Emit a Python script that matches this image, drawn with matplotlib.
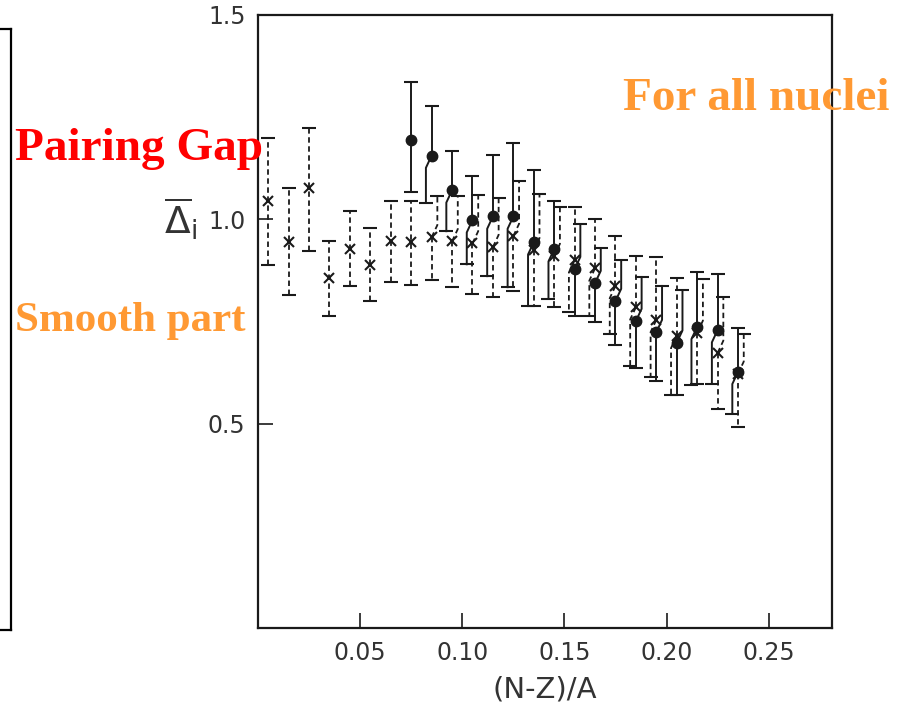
import numpy as np
import matplotlib
matplotlib.use("Agg")
import matplotlib.pyplot as plt

# bin centres of (N-Z)/A
x_bins = [0.005, 0.015, 0.025, 0.035, 0.045, 0.055, 0.065, 0.075, 0.085, 0.095, 0.105, 0.115,
          0.125, 0.135, 0.145, 0.155, 0.165, 0.175, 0.185, 0.195, 0.205, 0.215, 0.225, 0.235]

# smooth part (crosses, dashed error bars)
cross_val = [1.046, 0.944, 1.076, 0.856, 0.927, 0.888, 0.946, 0.944, 0.956, 0.946, 0.941, 0.932,
             0.959, 0.924, 0.910, 0.900, 0.880, 0.837, 0.785, 0.754, 0.715, 0.722, 0.673, 0.622]
cross_hi = [1.200, 1.076, 1.224, 0.946, 1.020, 0.978, 1.046, 1.044, 1.056, 1.056, 1.059, 1.051,
            1.095, 1.063, 1.029, 1.029, 1.002, 0.959, 0.910, 0.907, 0.856, 0.854, 0.810, 0.720]
cross_lo = [0.888, 0.815, 0.922, 0.763, 0.837, 0.800, 0.846, 0.839, 0.851, 0.834, 0.817, 0.810,
            0.824, 0.788, 0.785, 0.773, 0.763, 0.720, 0.642, 0.615, 0.571, 0.598, 0.537, 0.493]

# all nuclei (dots, solid error bars), from x = 0.075 on
dot_start = 7
dot_val = [1.195, 1.156, 1.071, 0.998, 1.007, 1.007, 0.944, 0.927, 0.878, 0.844, 0.800,
           0.751, 0.724, 0.698, 0.737, 0.729, 0.627]
dot_hi = [1.337, 1.278, 1.166, 1.105, 1.158, 1.188, 1.120, 1.046, 0.988, 0.929, 0.900,
          0.859, 0.837, 0.827, 0.871, 0.866, 0.734]
dot_lo = [1.068, 1.040, 0.971, 0.890, 0.861, 0.834, 0.788, 0.805, 0.763, 0.749, 0.693,
          0.637, 0.605, 0.571, 0.595, 0.598, 0.524]

INK = "#1a1a1a"
SOLID = dict(color=INK, lw=1.4, ls="-")
DASHED = dict(color=INK, lw=1.3, ls=(0, (3, 2)))
d, e = 0.0028, 0.03  # sideways shift of overlapping bars


def bar(ax, xs, ys, style):
    ax.plot(xs, ys, **style, zorder=2)


def cap(ax, x, y):
    ax.plot([x], [y], marker="_", ms=10, mew=1.5, color=INK, ls="none", zorder=3)


fig = plt.figure(figsize=(9.13, 7.03), dpi=100)

# edge of the neighbouring panel
ax0 = fig.add_axes([-0.3, 0.1038, 0.3 + 11 / 913, 0.855])
ax0.set_xticks([])
ax0.set_yticks([])
for s in ax0.spines.values():
    s.set_linewidth(1.6)

ax = fig.add_axes([258 / 913, 75 / 703, 574 / 913, 613 / 703])

for k, x in enumerate(x_bins):
    cv, ch, cl = cross_val[k], cross_hi[k], cross_lo[k]
    j = k - dot_start
    if j < 0:
        bar(ax, [x, x], [cl, ch], DASHED)
        cap(ax, x, ch)
        cap(ax, x, cl)
        continue
    dv, dh, dl = dot_val[j], dot_hi[j], dot_lo[j]
    if dv >= cv:
        hi = (dv, dh, dl, SOLID)
        lo = (cv, ch, cl, DASHED)
    else:
        hi = (cv, ch, cl, DASHED)
        lo = (dv, dh, dl, SOLID)
    if hi[2] >= lo[1]:
        # no overlap, straight bars
        for v, h, l, st in (hi, lo):
            bar(ax, [x, x], [l, h], st)
            cap(ax, x, h)
            cap(ax, x, l)
    else:
        v, h, l, st = hi
        bar(ax, [x, x], [v, h], st)
        bar(ax, [x, x - d, x - d], [v, v - e, l], st)
        cap(ax, x, h)
        cap(ax, x - d, l)
        v, h, l, st = lo
        bar(ax, [x, x + d, x + d], [v, v + e, h], st)
        bar(ax, [x, x], [v, l], st)
        cap(ax, x + d, h)
        cap(ax, x, l)

ax.plot(x_bins, cross_val, ls="none", marker="x", ms=7, mew=1.5, color=INK, zorder=4)
ax.plot(x_bins[dot_start:], dot_val, ls="none", marker="o", ms=7.5, color=INK, zorder=4)

ax.set_xlim(0, 0.281)
ax.set_ylim(0, 1.5)
ax.set_xticks([0.05, 0.10, 0.15, 0.20, 0.25])
ax.set_xticklabels(["0.05", "0.10", "0.15", "0.20", "0.25"])
ax.set_yticks([0.5, 1.0, 1.5])
ax.set_yticklabels(["0.5", "1.0", "1.5"])
ax.tick_params(direction="in", length=11, width=1.2, labelsize=17, labelcolor="#333333",
               pad=9, color=INK)
for s in ax.spines.values():
    s.set_linewidth(1.6)
    s.set_color(INK)

ax.set_xlabel("(N-Z)/A", fontsize=21, color="#333333", labelpad=8)
ax.set_ylabel(r"$\overline{\Delta}_{\rm i}$", fontsize=27, color="#333333", rotation=0)
ax.yaxis.set_label_coords(-0.135, 0.63)

serif = ["Liberation Serif", "DejaVu Serif"]
fig.text(15 / 913, 1 - 160 / 703, "Pairing Gap", color="#ff0000", fontsize=34,
         fontweight="bold", family=serif, va="baseline", ha="left")
fig.text(15 / 913, 1 - 331 / 703, "Smooth part", color="#ff9933", fontsize=31,
         fontweight="bold", family=serif, va="baseline", ha="left")
fig.text(623 / 913, 1 - 110 / 703, "For all nuclei", color="#ff9933", fontsize=34,
         fontweight="bold", family=serif, va="baseline", ha="left")

fig.savefig("out.png", dpi=100)
